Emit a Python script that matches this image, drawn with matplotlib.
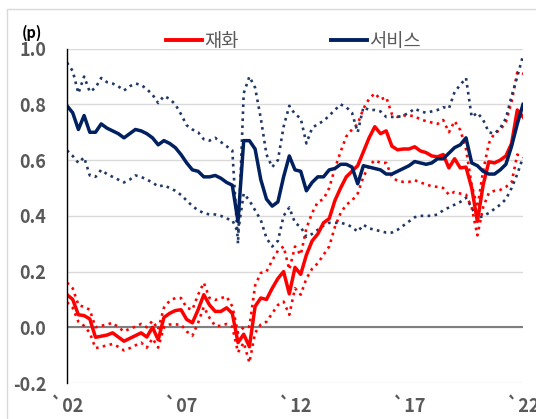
import matplotlib
matplotlib.use('Agg')
import matplotlib.pyplot as plt
from matplotlib.lines import Line2D
from matplotlib.patches import Rectangle

plt.rcParams['font.family'] = ['Noto Sans CJK KR', 'DejaVu Sans']

# 분기별 (2002Q1 ~ 2022Q1)
goods = [0.117, 0.10, 0.045, 0.042, 0.03, -0.036, -0.032, -0.028, -0.02, -0.035,
         -0.05, -0.04, -0.03, -0.02, -0.035, 0.0, -0.045, 0.035, 0.05, 0.06,
         0.063, 0.028, 0.016, 0.063, 0.117, 0.08, 0.057, 0.057, 0.07, 0.05,
         -0.055, -0.025, -0.07, 0.075, 0.105, 0.10, 0.14, 0.175, 0.20, 0.12,
         0.215, 0.19, 0.26, 0.31, 0.335, 0.375, 0.39, 0.455, 0.50, 0.54,
         0.56, 0.58, 0.63, 0.68, 0.72, 0.695, 0.705, 0.65, 0.637, 0.64,
         0.64, 0.648, 0.633, 0.627, 0.615, 0.612, 0.62, 0.572, 0.605, 0.572,
         0.575, 0.50, 0.38, 0.51, 0.594, 0.59, 0.60, 0.615, 0.66, 0.78, 0.755]
goods_hi = [0.16, 0.14, 0.08, 0.073, 0.063, 0.0, 0.005, 0.01, 0.016, 0.0,
            -0.015, -0.005, 0.002, 0.012, 0.0, 0.023, -0.008, 0.07, 0.095, 0.105,
            0.105, 0.07, 0.063, 0.117, 0.16, 0.105, 0.098, 0.105, 0.11, 0.075,
            -0.02, 0.0, 0.002, 0.15, 0.195, 0.20, 0.24, 0.275, 0.29, 0.207,
            0.29, 0.26, 0.355, 0.41, 0.45, 0.46, 0.50, 0.57, 0.63, 0.685,
            0.71, 0.73, 0.785, 0.82, 0.84, 0.818, 0.826, 0.765, 0.755, 0.76,
            0.76, 0.758, 0.746, 0.74, 0.735, 0.73, 0.744, 0.70, 0.74, 0.708,
            0.64, 0.51, 0.43, 0.56, 0.66, 0.697, 0.708, 0.737, 0.81, 0.915, 0.91]
goods_lo = [0.09, 0.07, 0.02, 0.005, -0.02, -0.075, -0.07, -0.065, -0.06, -0.07,
            -0.083, -0.075, -0.065, -0.055, -0.073, -0.04, -0.073, 0.0, 0.01, 0.01,
            0.01, -0.015, -0.03, 0.016, 0.073, 0.034, 0.005, 0.005, 0.012, 0.002,
            -0.09, -0.055, -0.127, -0.02, 0.01, 0.02, 0.05, 0.08, 0.092, 0.045,
            0.14, 0.117, 0.175, 0.21, 0.23, 0.26, 0.29, 0.36, 0.41, 0.44,
            0.455, 0.48, 0.54, 0.58, 0.60, 0.59, 0.59, 0.54, 0.525, 0.522,
            0.522, 0.528, 0.52, 0.513, 0.506, 0.504, 0.50, 0.476, 0.486, 0.48,
            0.476, 0.43, 0.33, 0.43, 0.482, 0.49, 0.493, 0.504, 0.52, 0.62, 0.61]
service = [0.795, 0.77, 0.71, 0.76, 0.70, 0.70, 0.73, 0.715, 0.705, 0.695,
           0.68, 0.695, 0.71, 0.705, 0.695, 0.68, 0.655, 0.67, 0.66, 0.645,
           0.62, 0.59, 0.565, 0.56, 0.54, 0.54, 0.545, 0.535, 0.52, 0.51,
           0.38, 0.67, 0.67, 0.64, 0.53, 0.46, 0.435, 0.45, 0.54, 0.615,
           0.565, 0.56, 0.49, 0.52, 0.54, 0.54, 0.565, 0.57, 0.585, 0.585,
           0.575, 0.515, 0.58, 0.575, 0.57, 0.565, 0.55, 0.55, 0.56, 0.57,
           0.58, 0.595, 0.59, 0.585, 0.59, 0.605, 0.605, 0.625, 0.645, 0.655,
           0.68, 0.59, 0.58, 0.56, 0.55, 0.55, 0.565, 0.585, 0.65, 0.73, 0.80]
service_hi = [0.95, 0.92, 0.84, 0.90, 0.845, 0.86, 0.895, 0.88, 0.875, 0.865,
              0.85, 0.865, 0.875, 0.87, 0.855, 0.835, 0.805, 0.83, 0.82, 0.80,
              0.765, 0.725, 0.71, 0.70, 0.675, 0.67, 0.68, 0.665, 0.65, 0.635,
              0.30, 0.84, 0.90, 0.86, 0.75, 0.62, 0.575, 0.60, 0.72, 0.795,
              0.765, 0.75, 0.66, 0.715, 0.73, 0.74, 0.76, 0.78, 0.80, 0.79,
              0.77, 0.70, 0.79, 0.78, 0.78, 0.775, 0.755, 0.755, 0.755, 0.76,
              0.77, 0.785, 0.775, 0.77, 0.775, 0.78, 0.79, 0.785, 0.845, 0.87,
              0.895, 0.755, 0.77, 0.745, 0.70, 0.695, 0.715, 0.75, 0.83, 0.90, 0.975]
service_lo = [0.635, 0.615, 0.59, 0.61, 0.545, 0.54, 0.565, 0.55, 0.54, 0.53,
              0.52, 0.53, 0.545, 0.54, 0.53, 0.52, 0.505, 0.51, 0.50, 0.49,
              0.475, 0.455, 0.435, 0.42, 0.41, 0.405, 0.405, 0.40, 0.39, 0.385,
              0.34, 0.48, 0.455, 0.42, 0.385, 0.32, 0.29, 0.31, 0.40, 0.43,
              0.375, 0.36, 0.325, 0.335, 0.35, 0.365, 0.375, 0.375, 0.375, 0.37,
              0.36, 0.343, 0.368, 0.355, 0.35, 0.345, 0.34, 0.34, 0.35, 0.365,
              0.38, 0.395, 0.40, 0.40, 0.40, 0.405, 0.42, 0.43, 0.44, 0.45,
              0.465, 0.43, 0.39, 0.40, 0.41, 0.425, 0.44, 0.46, 0.50, 0.55, 0.61]

xtick_pos = [0, 20, 40, 60, 80]
xtick_labels = ['`02', '`07', '`12', '`17', '`22']
yticks = [-0.2, 0.0, 0.2, 0.4, 0.6, 0.8, 1.0]

red = '#FF0000'
navy = '#002060'
navy_dot = '#203864'
gray = '#595959'

fig = plt.figure(figsize=(5.36, 4.19), dpi=100)
fig.patches.append(Rectangle((7 / 536, -0.1), 1.2, 1 - 9 / 419 + 0.1, transform=fig.transFigure,
                             fill=False, edgecolor='#d9d9d9', lw=1))
ax = fig.add_axes([67 / 536, 1 - 383 / 419, (523 - 67) / 536, (383 - 48.7) / 419])

x = list(range(len(goods)))
ax.plot(x, goods_hi, color=red, lw=1.9, ls=':')
ax.plot(x, goods_lo, color=red, lw=1.9, ls=':')
ax.plot(x, service_hi, color=navy_dot, lw=1.9, ls=':')
ax.plot(x, service_lo, color=navy_dot, lw=1.9, ls=':')
ax.plot(x, goods, color=red, lw=2.5, solid_joinstyle='round')
ax.plot(x, service, color=navy, lw=2.5, solid_joinstyle='round')

ax.set_xlim(0, 80)
ax.set_ylim(-0.2, 1.0)
ax.set_yticks(yticks)
ax.set_yticklabels(['%.1f' % v for v in yticks])
ax.set_xticks(xtick_pos)
ax.set_xticklabels(xtick_labels)
ax.grid(axis='y', color='#d9d9d9', lw=1)
ax.set_axisbelow(True)
ax.axhline(0, color='#7f7f7f', lw=1.5, zorder=1.5)
for s in ['top', 'right', 'bottom']:
    ax.spines[s].set_visible(False)
ax.spines['left'].set_color('black')
ax.spines['left'].set_linewidth(1)
ax.tick_params(axis='both', length=0, labelsize=13, labelcolor=gray)
ax.tick_params(axis='y', pad=15)
ax.tick_params(axis='x', pad=10)
for t in ax.get_xticklabels() + ax.get_yticklabels():
    t.set_fontweight('bold')

fig.text(22 / 536, 1 - 33 / 419, '(p)', fontsize=10.5, fontweight='bold', color='black',
         ha='left', va='center')

handles = [Line2D([], [], color=red, lw=2.8), Line2D([], [], color=navy, lw=2.8)]
fig.legend(handles, ['재화', '서비스'], loc='center', bbox_to_anchor=(0.548, 1 - 41 / 419),
           ncol=2, frameon=False, fontsize=13.5, handlelength=1.9, handletextpad=0.15,
           columnspacing=4.9, labelcolor=gray)

fig.savefig('out.png', dpi=100)
